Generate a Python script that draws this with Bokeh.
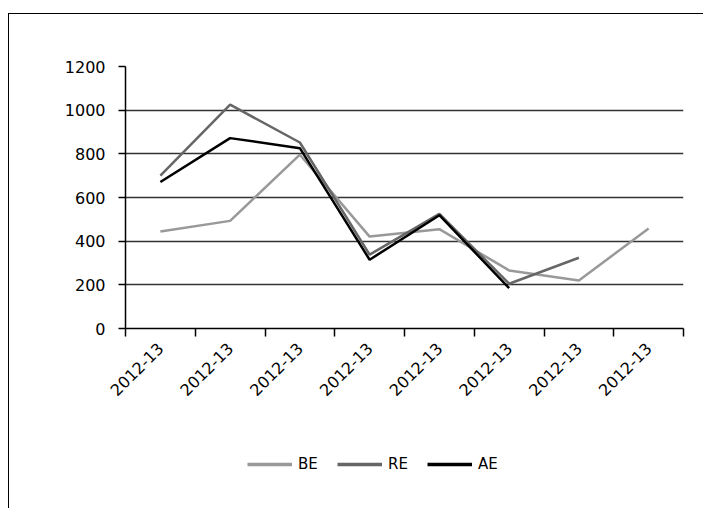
from bokeh.plotting import figure
from bokeh.models import (FixedTicker, Range1d, Legend, LegendItem)
from bokeh.layouts import column
from bokeh.embed import file_html
from bokeh.resources import INLINE
import math

categories = ["2012-13"] * 8
be = [444, 493, 796, 421, 455, 266, 220, 458]
re_ = [700, 1025, 852, 338, 525, 205, 324]
ae = [671, 872, 826, 315, 519, 185]
y_ticks = [0, 200, 400, 600, 800, 1000, 1200]
series_names = ["BE", "RE", "AE"]
series_colors = ["#999999", "#666666", "black"]

FONT = "DejaVu Sans"

p = figure(output_backend="svg", toolbar_location=None,
           frame_width=558, frame_height=262,
           x_range=Range1d(0, 8), y_range=Range1d(0, 1200),
           min_border_left=116, min_border_right=20, min_border_top=52,
           min_border_bottom=100)
p.outline_line_color = None
p.background_fill_color = "white"
p.border_fill_color = "white"

centers = [i + 0.5 for i in range(len(categories))]
p.xaxis.ticker = FixedTicker(ticks=centers, minor_ticks=list(range(len(categories) + 1)))
p.xaxis.major_label_overrides = {c: lab for c, lab in zip(centers, categories)}
p.xaxis.major_tick_out = 0
p.xaxis.major_tick_in = 0
p.xaxis.minor_tick_out = 8
p.xaxis.minor_tick_in = 0
p.xaxis.minor_tick_line_color = "black"
p.xaxis.minor_tick_line_width = 1.5
p.xaxis.axis_line_color = "black"
p.xaxis.axis_line_width = 1.5
p.xaxis.major_label_orientation = math.pi / 4
p.xaxis.major_label_text_font = FONT
p.xaxis.major_label_text_font_size = "16px"
p.xaxis.major_label_text_color = "black"
p.xaxis.major_label_standoff = 9

p.yaxis.ticker = FixedTicker(ticks=y_ticks)
p.yaxis.minor_tick_line_color = None
p.yaxis.major_tick_out = 7
p.yaxis.major_tick_in = 0
p.yaxis.major_tick_line_color = "black"
p.yaxis.major_tick_line_width = 1.5
p.yaxis.axis_line_color = "black"
p.yaxis.axis_line_width = 1.5
p.yaxis.major_label_text_font = FONT
p.yaxis.major_label_text_font_size = "16px"
p.yaxis.major_label_text_color = "black"
p.yaxis.major_label_standoff = 13

p.xgrid.grid_line_color = None
p.ygrid.ticker = FixedTicker(ticks=y_ticks[1:])
p.ygrid.grid_line_color = "#333333"
p.ygrid.grid_line_width = 1.3

for vals, col in zip([be, re_, ae], series_colors):
    p.line(centers[:len(vals)], vals, line_color=col, line_width=2.5)

# legend strip below the chart
lg = figure(output_backend="svg", toolbar_location=None,
            frame_width=694, frame_height=80,
            x_range=Range1d(0, 1), y_range=Range1d(0, 1),
            x_axis_type=None, y_axis_type=None,
            min_border_left=0, min_border_right=0, min_border_top=0, min_border_bottom=0)
lg.outline_line_color = None
lg.border_fill_color = "white"
lg.background_fill_color = "white"
nan = float("nan")
items = []
for name, col in zip(series_names, series_colors):
    r = lg.line(x=[nan], y=[nan], line_color=col, line_width=3.5)
    items.append(LegendItem(label=name, renderers=[r]))
legend = Legend(items=items, orientation="horizontal", location=(238, 34), padding=0,
                glyph_width=45, glyph_height=20, label_standoff=6, spacing=19,
                label_text_font=FONT, label_text_font_size="15px",
                label_text_color="black",
                background_fill_alpha=0, border_line_color=None)
lg.add_layout(legend, "center")

layout = column(p, lg, spacing=0)
layout.styles = {"margin-left": "8px", "margin-top": "13px",
                 "border-left": "1.5px solid black", "border-top": "1.5px solid black"}

open("out.html", "w").write(file_html(layout, INLINE))
